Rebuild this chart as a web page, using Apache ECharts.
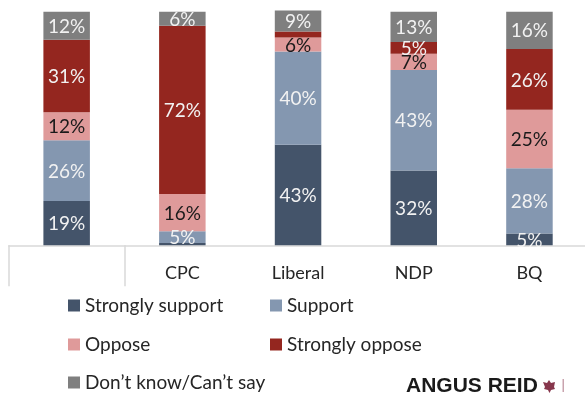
<!DOCTYPE html>
<html>
<head>
<meta charset="utf-8">
<style>html,body{margin:0;padding:0;background:#fff;overflow:hidden;width:585px;height:394px}#c{width:592px;height:394px}</style>
<script src="https://cdn.jsdelivr.net/npm/echarts@6/dist/echarts.min.js"></script>
</head>
<body>
<div id="c"></div>
<script>
const categories = ['', 'CPC', 'Liberal', 'NDP', 'BQ'];
const stronglySupport = [19, 1, 43, 32, 5];
const support = [26, 5, 40, 43, 28];
const oppose = [12, 16, 6, 7, 25];
const stronglyOppose = [31, 72, 2.5, 5, 26];
const unsure = [12, 6, 9, 13, 16];

// Segments too thin to carry a label keep their colour only.
const unlabelled = { 'Strongly support': [1], 'Strongly oppose': [2] };

const font = 'Lato, "Open Sans", sans-serif';

const seriesDefs = [
  { name: 'Strongly support', data: stronglySupport, color: '#44546A', text: '#F2F2F2', legend: [68, 296] },
  { name: 'Support', data: support, color: '#8497B0', text: '#F2F2F2', legend: [270, 296] },
  { name: 'Oppose', data: oppose, color: '#DF9A9A', text: '#1A1A1A', legend: [68, 335] },
  { name: 'Strongly oppose', data: stronglyOppose, color: '#94261F', text: '#F2F2F2', legend: [270, 335] },
  { name: "Don\u2019t know/Can\u2019t say", data: unsure, color: '#7F7F7F', text: '#F2F2F2', legend: [68, 373] }
];

// The plot runs slightly past the right edge of the page, so the canvas is wider than the window.
const chart = echarts.init(document.getElementById('c'), null, { renderer: 'canvas' });
chart.setOption({
  animation: false,
  backgroundColor: '#fff',
  textStyle: { fontFamily: font },
  grid: { left: 8.8, top: 0, width: 578.5, height: 245.3, containLabel: false },
  xAxis: {
    type: 'category',
    data: categories,
    axisLine: { show: true, lineStyle: { color: '#D9D9D9', width: 1.5 } },
    axisTick: {
      show: true,
      length: 41,
      interval: (index) => index < 2,
      lineStyle: { color: '#D9D9D9', width: 1.5 }
    },
    axisLabel: { show: true, interval: 0, color: '#262626', fontSize: 18, fontFamily: font, margin: 19 }
  },
  yAxis: { type: 'value', min: 0, max: 105, show: false, splitLine: { show: false } },
  legend: seriesDefs.map((s) => ({
    data: [s.name],
    left: s.legend[0],
    top: s.legend[1],
    itemWidth: 12,
    itemHeight: 12,
    itemGap: 0,
    padding: 0,
    icon: 'rect',
    selectedMode: false,
    textStyle: { fontFamily: font, fontSize: 19, color: '#262626' }
  })),
  series: seriesDefs.map((s) => ({
    name: s.name,
    type: 'bar',
    stack: 'total',
    barWidth: 46.5,
    data: s.data,
    itemStyle: { color: s.color },
    label: {
      show: true,
      position: 'inside',
      offset: [0, 1],
      fontFamily: font,
      fontSize: 19,
      color: s.text,
      formatter: (p) => ((unlabelled[s.name] || []).includes(p.dataIndex) ? '' : p.value + '%')
    }
  })),
  graphic: [
    { type: 'text', left: 406, top: 376, style: { text: 'ANGUS REID', fontFamily: '"Liberation Sans", Arial, sans-serif', fontWeight: 'bold', fontSize: 21, fill: '#1A1A1A' } },
    // Maple leaf beside the wordmark, followed by a thin divider.
    { type: 'polygon', shape: { points: [[549,380],[551,383],[555,382],[554,387],[555,389],[551,390],[549.5,393],[548,390],[544,389],[545,387],[543,382],[547,383]] }, style: { fill: '#7A2038', opacity: 0.9 } },
    { type: 'rect', shape: { x: 562.5, y: 379, width: 1.5, height: 13 }, style: { fill: '#C9A3AE' } }
  ]
});
</script>
</body>
</html>
